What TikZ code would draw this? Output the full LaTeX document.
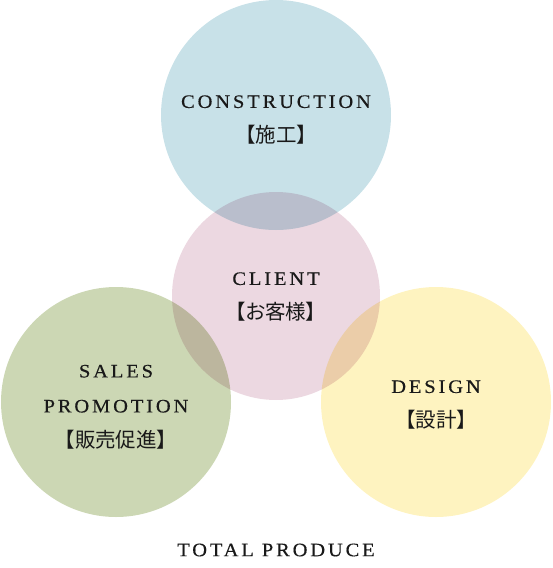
\documentclass[tikz,border=0pt]{standalone}
\usepackage{fontspec}
\setmainfont{Liberation Serif}
\newfontfamily\capsfont[LetterSpace=15, FakeStretch=1.08, FakeBold=0.4]{Liberation Serif}
\newfontfamily\jpfont[RawFeature=+palt]{Noto Sans CJK JP}
\newcommand\jptext[1]{{\jpfont\fontsize{20.5}{35}\selectfont #1}}
\usetikzlibrary{positioning}
\definecolor{tpBlue}{HTML}{C8E1E8}
\definecolor{tpPink}{HTML}{ECD8E1}
\definecolor{tpGreen}{HTML}{CCD7B4}
\definecolor{tpYellow}{HTML}{FEF3C0}

\begin{document}
\begin{tikzpicture}[
    x=1pt, y=-1pt,
    area/.style={circle, inner sep=0pt, minimum size=230pt},
    area text/.style={align=center, font=\fontsize{19}{35}\capsfont, text=black!90}
]
  \useasboundingbox (0,0) rectangle (552,568);
  \begin{scope}[blend group=multiply]
    \node[area, fill=tpBlue] (constr) at (276,115) {};
    \node[area, fill=tpGreen] (sales) at (116,402) {};
    \node[area, fill=tpYellow] (design) at (436,402) {};
    \node[area, fill=tpPink, minimum size=208pt] (client) at (276,296) {};
  \end{scope}

  \node[area text] (constr text) at ([yshift=-5pt]constr) {CONSTRUCTION\\\jptext{【施工】}};
  \node[area text] (client text) at ([yshift=-1pt]client) {CLIENT\\\jptext{【お客様】}};
  \node[area text] (sales text) at ([yshift=-5pt]sales) {SALES\\PROMOTION\\\jptext{【販売促進】}};
  \node[area text] (design text) at ([yshift=-3pt]design) {DESIGN\\\jptext{【設計】}};
  \node[area text] (total) at (276,550) {TOTAL PRODUCE};
\end{tikzpicture}
\end{document}
